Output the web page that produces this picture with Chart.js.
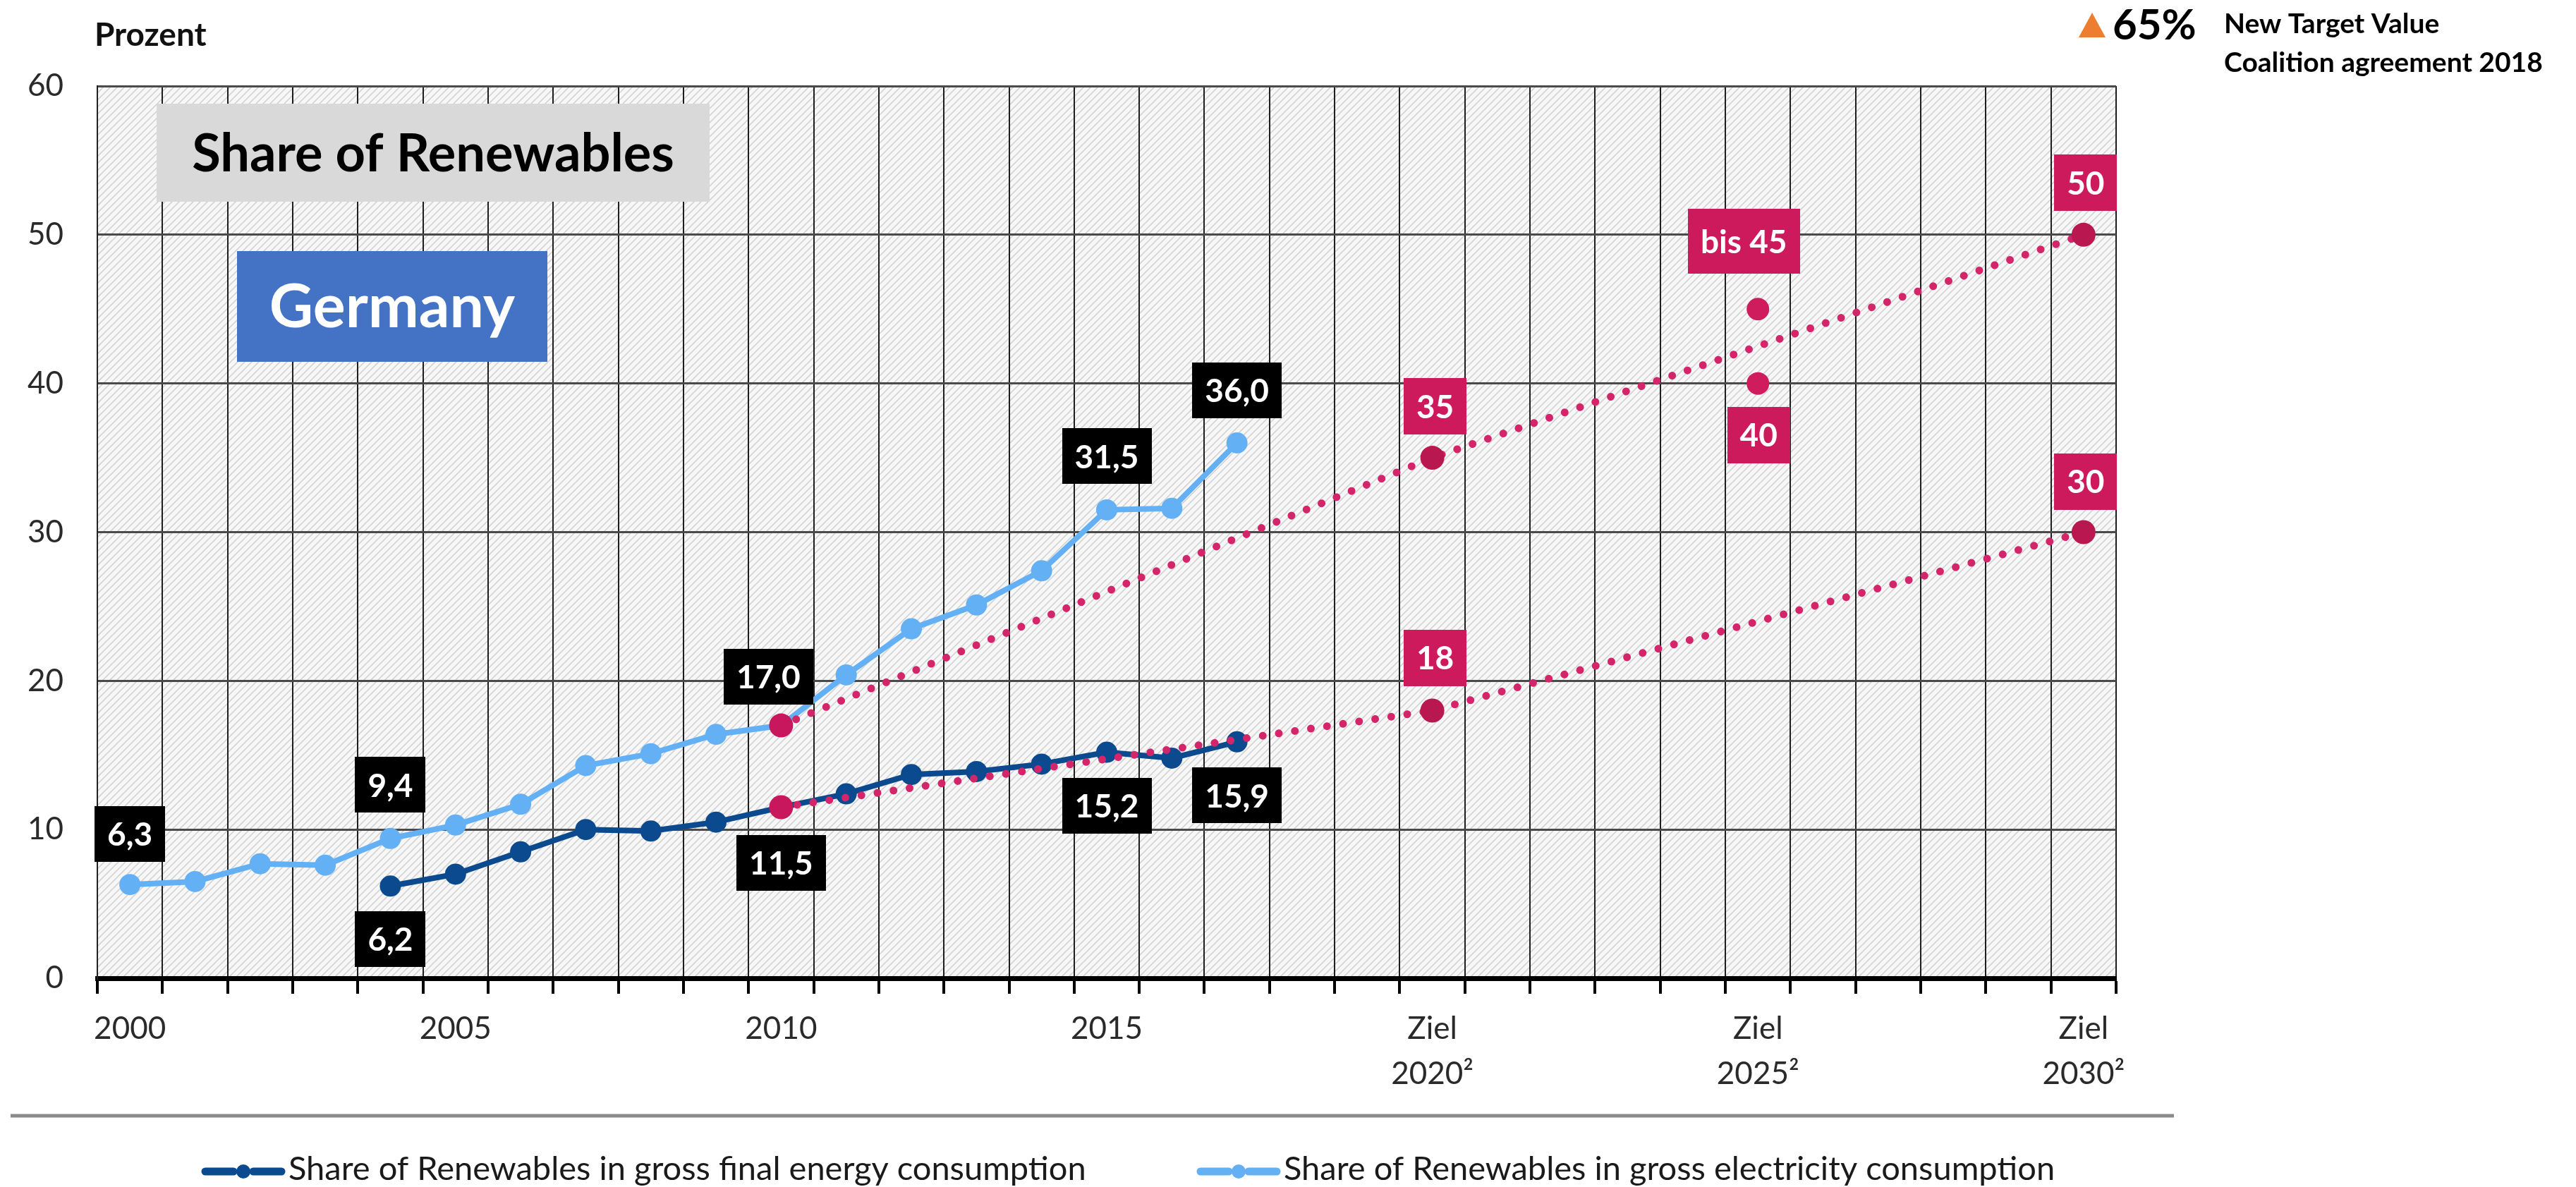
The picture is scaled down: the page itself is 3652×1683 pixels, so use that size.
<!DOCTYPE html>
<html>
<head>
<meta charset="utf-8">
<script src="https://cdn.jsdelivr.net/npm/chart.js@4.4.1/dist/chart.umd.min.js"></script>
<style>
  html, body { margin: 0; padding: 0; background: #fff; }
  #wrap { width: 3652px; height: 1683px; }
</style>
</head>
<body>
<div id="wrap"><canvas id="renewables"></canvas></div>
<script>
const years = ['2000', '2001', '2002', '2003', '2004', '2005', '2006', '2007', '2008', '2009',
               '2010', '2011', '2012', '2013', '2014', '2015', '2016', '2017', '2018', '2019',
               '2020', '2021', '2022', '2023', '2024', '2025', '2026', '2027', '2028', '2029', '2030'];
const tickLabels = {
    '2000': '2000', '2005': '2005', '2010': '2010', '2015': '2015',
    '2020': ['Ziel', '2020²'], '2025': ['Ziel', '2025²'], '2030': ['Ziel', '2030²']
};
const finalEnergy = [null, null, null, null, 6.2, 7.0, 8.5, 10.0, 9.9, 10.5, 11.5, 12.4, 13.7, 13.9, 14.4, 15.2, 14.8, 15.9];
const electricity = [6.3, 6.5, 7.7, 7.6, 9.4, 10.3, 11.7, 14.3, 15.1, 16.4, 17.0, 20.4, 23.5, 25.1, 27.4, 31.5, 31.6, 36.0];
const targetYears = ['2010', '2020', '2030'];
const electricityTarget = [17.0, 35, 50];
const energyTarget = [11.5, 18, 30];
const target2025 = [40, 45];

const FONT = 'Lato, "Open Sans", sans-serif';
const PINK = '#cc1a5c';
const LIGHT = '#63b0f5';
const DARK = '#0b4a8e';

// hatched plot background
const tile = document.createElement('canvas');
tile.width = 10; tile.height = 10;
const tctx = tile.getContext('2d');
tctx.fillStyle = '#f7f7f7';
tctx.fillRect(0, 0, 10, 10);
tctx.strokeStyle = '#cfcfcf';
tctx.lineWidth = 1.5;
tctx.beginPath();
tctx.moveTo(0, 10); tctx.lineTo(10, 0);
tctx.moveTo(-5, 5); tctx.lineTo(5, -5);
tctx.moveTo(5, 15); tctx.lineTo(15, 5);
tctx.stroke();

const fmt = v => v.toFixed(1).replace('.', ',');
const series = { electricity: electricity, finalEnergy: finalEnergy };

const valueTags = [
    { series: 'electricity', year: '2000', dx: 0, dy: -72 },
    { series: 'electricity', year: '2004', dx: 0, dy: -76 },
    { series: 'finalEnergy', year: '2004', dx: 0, dy: 75 },
    { series: 'electricity', year: '2010', dx: -18, dy: -69 },
    { series: 'finalEnergy', year: '2010', dx: 0, dy: 79 },
    { series: 'electricity', year: '2015', dx: 0, dy: -76 },
    { series: 'electricity', year: '2017', dx: 0, dy: -75 },
    { series: 'finalEnergy', year: '2015', dx: 0, dy: 76 },
    { series: 'finalEnergy', year: '2017', dx: 0, dy: 76 }
];
const targetTags = [
    { year: '2020', value: electricityTarget[1], dx: 4, dy: -73 },
    { year: '2020', value: energyTarget[1], dx: 4, dy: -75 },
    { year: '2025', value: target2025[1], prefix: 'bis ', dx: -20, dy: -96, h: 92 },
    { year: '2025', value: target2025[0], dx: 1, dy: 73 },
    { year: '2030', value: electricityTarget[2], dx: 3, dy: -74 },
    { year: '2030', value: energyTarget[2], dx: 3, dy: -72 }
];

function tag(ctx, x, y, text, bg, h) {
    ctx.font = 'bold 46px ' + FONT;
    const w = ctx.measureText(text).width + 36;
    ctx.fillStyle = bg;
    ctx.fillRect(Math.round(x - w / 2), Math.round(y - h / 2), Math.round(w), h);
    ctx.fillStyle = '#fff';
    ctx.textAlign = 'center';
    ctx.textBaseline = 'middle';
    ctx.fillText(text, x, y + 2);
}

const decor = {
    id: 'decor',
    beforeDraw(chart) {
        const { ctx, chartArea: a } = chart;
        ctx.save();
        ctx.fillStyle = ctx.createPattern(tile, 'repeat');
        ctx.fillRect(a.left, a.top, a.width, a.height);
        ctx.restore();
    },
    beforeDatasetsDraw(chart) {
        const { ctx, chartArea: a } = chart;
        ctx.save();
        ctx.fillStyle = '#d9d9d9';
        ctx.fillRect(a.left + 84, a.top + 25, 784, 139);
        ctx.fillStyle = '#000';
        ctx.font = 'bold 74px ' + FONT;
        ctx.textAlign = 'center';
        ctx.textBaseline = 'middle';
        ctx.fillText('Share of Renewables', a.left + 476, a.top + 97);

        ctx.fillStyle = '#4472c4';
        ctx.fillRect(a.left + 198, a.top + 234, 440, 157);
        ctx.fillStyle = '#fff';
        ctx.font = 'bold 86px ' + FONT;
        ctx.fillText('Germany', a.left + 418, a.top + 314);
        ctx.restore();
    },
    afterDatasetsDraw(chart) {
        const { ctx, scales: { x, y } } = chart;
        ctx.save();
        valueTags.forEach(t => {
            const i = years.indexOf(t.year);
            const v = series[t.series][i];
            tag(ctx, x.getPixelForValue(i) + t.dx, y.getPixelForValue(v) + t.dy, fmt(v), '#000', 79);
        });
        targetTags.forEach(t => {
            const i = years.indexOf(t.year);
            tag(ctx, x.getPixelForValue(i) + t.dx, y.getPixelForValue(t.value) + t.dy,
                (t.prefix || '') + t.value, PINK, t.h || 80);
        });
        ctx.restore();
    },
    afterDraw(chart) {
        const ctx = chart.ctx;
        ctx.save();
        ctx.fillStyle = '#111';
        ctx.textAlign = 'left';
        ctx.textBaseline = 'alphabetic';
        ctx.font = 'bold 46px ' + FONT;
        ctx.fillText('Prozent', 134, 65);

        // note top right
        ctx.fillStyle = '#ed7d31';
        ctx.beginPath();
        ctx.moveTo(2947, 53); ctx.lineTo(2985, 53); ctx.lineTo(2966, 18);
        ctx.closePath();
        ctx.fill();
        ctx.fillStyle = '#000';
        ctx.font = 'bold 60px ' + FONT;
        ctx.fillText('65%', 2995, 56);
        ctx.font = 'bold 39px ' + FONT;
        ctx.fillText('New Target Value', 3153, 47);
        ctx.fillText('Coalition agreement 2018', 3153, 102);

        // separator
        ctx.strokeStyle = '#8a8a8a';
        ctx.lineWidth = 5;
        ctx.beginPath();
        ctx.moveTo(15, 1582); ctx.lineTo(3082, 1582);
        ctx.stroke();

        // legend
        const items = [
            { ds: chart.data.datasets[4], x: 287 },
            { ds: chart.data.datasets[3], x: 1698 }
        ];
        items.forEach(it => {
            const c = it.ds.borderColor;
            const ly = 1661;
            ctx.strokeStyle = c;
            ctx.lineWidth = 11;
            ctx.lineCap = 'round';
            ctx.beginPath();
            ctx.moveTo(it.x + 4, ly); ctx.lineTo(it.x + 44, ly);
            ctx.moveTo(it.x + 72, ly); ctx.lineTo(it.x + 112, ly);
            ctx.stroke();
            ctx.fillStyle = c;
            ctx.beginPath();
            ctx.arc(it.x + 58, ly, 10, 0, Math.PI * 2);
            ctx.fill();
            ctx.fillStyle = '#1a1a1a';
            ctx.font = '47px ' + FONT;
            ctx.fillText(it.ds.label, it.x + 122, 1673);
        });
        ctx.restore();
    }
};

const toPoints = (xs, ys) => xs.map((yr, i) => ({ x: yr, y: ys[i] }));

new Chart(document.getElementById('renewables'), {
    type: 'line',
    data: {
        labels: years,
        datasets: [{
            label: 'Ziel Strom',
            data: toPoints(targetYears, electricityTarget),
            borderColor: '#d4246a',
            borderWidth: 11,
            borderDash: [0.01, 23],
            borderCapStyle: 'round',
            pointRadius: 17,
            pointBorderWidth: 0,
            pointBackgroundColor: ['#c8175d', '#b8184f', '#b8184f'],
            order: 0
        }, {
            label: 'Ziel Endenergie',
            data: toPoints(targetYears, energyTarget),
            borderColor: '#d4246a',
            borderWidth: 11,
            borderDash: [0.01, 23],
            borderCapStyle: 'round',
            pointRadius: 17,
            pointBorderWidth: 0,
            pointBackgroundColor: ['#c8175d', '#b8184f', '#b8184f'],
            order: 0
        }, {
            label: 'Ziel 2025',
            data: toPoints(['2025', '2025'], target2025),
            showLine: false,
            pointRadius: 16,
            pointBorderWidth: 0,
            pointBackgroundColor: '#cf1c5c',
            order: 0
        }, {
            label: 'Share of Renewables in gross electricity consumption',
            data: electricity,
            borderColor: LIGHT,
            backgroundColor: LIGHT,
            borderWidth: 8,
            pointRadius: 15,
            pointBorderWidth: 0,
            pointBackgroundColor: LIGHT,
            order: 1
        }, {
            label: 'Share of Renewables in gross final energy consumption',
            data: finalEnergy,
            borderColor: DARK,
            backgroundColor: DARK,
            borderWidth: 8,
            pointRadius: 15,
            pointBorderWidth: 0,
            pointBackgroundColor: DARK,
            order: 1
        }]
    },
    options: {
        responsive: true,
        maintainAspectRatio: false,
        devicePixelRatio: 1,
        animation: false,
        layout: { padding: { left: 0, right: 652, top: 122, bottom: 0 } },
        plugins: {
            legend: { display: false },
            tooltip: { enabled: false }
        },
        scales: {
            x: {
                offset: true,
                afterFit: s => { s.height = 296; },
                grid: { offset: true, color: '#1e1e1e', lineWidth: 2, tickLength: 22, tickWidth: 4, tickColor: '#000' },
                border: { display: true, color: '#000', width: 7 },
                ticks: {
                    autoSkip: false,
                    maxRotation: 0,
                    padding: 18,
                    color: '#2a2a2a',
                    font: { family: FONT, size: 44, lineHeight: 1.45 },
                    callback: (v, i) => tickLabels[years[i]] || ''
                }
            },
            y: {
                min: 0,
                max: 60,
                afterFit: s => { s.width = 138; },
                grid: { color: '#4a4a4a', lineWidth: 3, drawTicks: false },
                border: { display: true, color: '#222', width: 2 },
                ticks: {
                    stepSize: 10,
                    padding: 48,
                    color: '#2a2a2a',
                    font: { family: FONT, size: 44 }
                }
            }
        }
    },
    plugins: [decor]
});
</script>
</body>
</html>
